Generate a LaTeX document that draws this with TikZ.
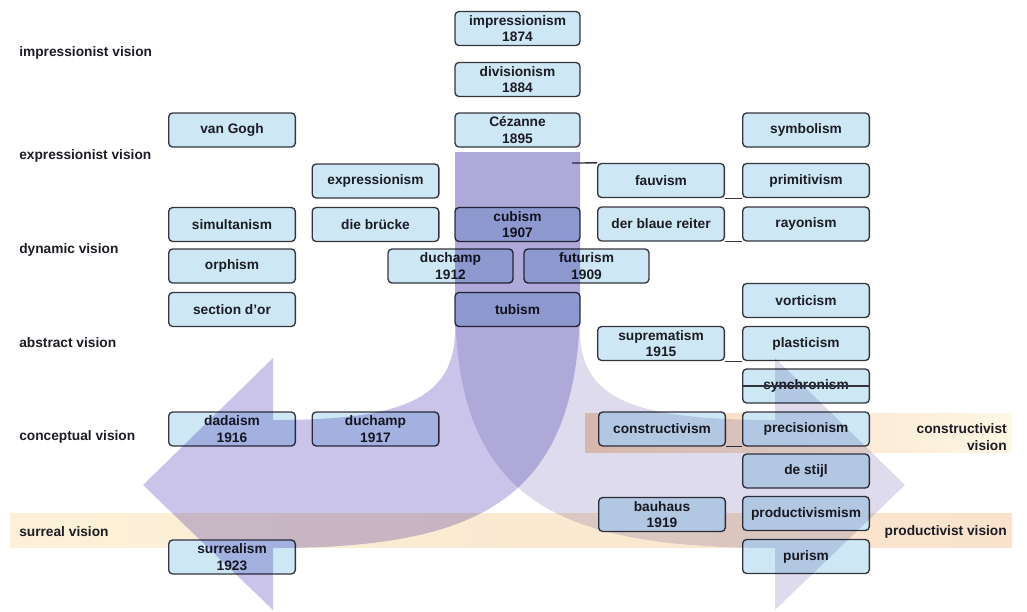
\documentclass[tikz,border=0pt]{standalone}
\usepackage{fontspec}
\setmainfont{Liberation Sans}
\definecolor{boxfill}{HTML}{CDE7F5}
\definecolor{boxline}{HTML}{34343E}
\definecolor{ink}{HTML}{1C1C24}
\definecolor{leftflow}{HTML}{8173CE}
\definecolor{rightflow}{HTML}{9892C4}
\definecolor{bandyellow}{HTML}{FBEBC8}
\definecolor{bandorange}{HTML}{F4C3A0}
\definecolor{bandpale}{HTML}{FDF3D8}
\begin{document}
\begin{tikzpicture}[x=0.75pt,y=-0.75pt,
  box/.style={draw=boxline, line width=1pt, rounded corners=3pt, fill=boxfill,
    minimum width=95pt, minimum height=25.5pt, inner sep=0pt, align=center,
    font=\bfseries\fontsize{10.3}{12.6}\selectfont, text=ink},
  cbox/.style={box, minimum width=93.75pt},
  vision/.style={font=\bfseries\fontsize{10.3}{12.6}\selectfont, text=ink, inner sep=0pt},
  rule/.style={draw=boxline, line width=1pt},
  flowL/.style={fill=leftflow, fill opacity=0.42, blend mode=multiply},
  flowR/.style={fill=rightflow, fill opacity=0.32, blend mode=multiply}]
\path[use as bounding box] (0,0) rectangle (1027,611);

% coloured bands behind the lower vision rows
\shade[left color=bandyellow, middle color=bandorange, right color=bandorange!60!bandpale, opacity=0.7]
  (10,513) rectangle (1012,547);
\shade[left color=bandorange, right color=bandpale, opacity=0.7]
  (585,413) rectangle (1012,452);

% central column
\node[cbox] (impressionism) at (517.5,28.5) {impressionism\\1874};
\node[cbox] (divisionism) at (517.5,79.5) {divisionism\\1884};
\node[cbox] (cezanne) at (517.5,130) {Cézanne\\1895};
\node[cbox] (cubism) at (517.5,224.5) {cubism\\1907};
\node[cbox] (duchampA) at (450.5,266) {duchamp\\1912};
\node[cbox] (futurism) at (586.5,266) {futurism\\1909};
\node[cbox] (tubism) at (517.5,309.5) {tubism};

% left columns
\node[box] (vangogh) at (232,130) {van Gogh};
\node[box] (simultanism) at (232,224.5) {simultanism};
\node[box] (orphism) at (232,266) {orphism};
\node[box] (sectiondor) at (232,309.5) {section d'or};
\node[box] (dadaism) at (232,429) {dadaism\\1916};
\node[box] (surrealism) at (232,557) {surrealism\\1923};
\node[box] (expressionism) at (375.5,181) {expressionism};
\node[box] (diebrucke) at (375.5,224.5) {die brücke};
\node[box] (duchampB) at (375.5,429) {duchamp\\1917};

% right columns
\node[box] (fauvism) at (661,180.5) {fauvism};
\node[box] (blauereiter) at (661,224) {der blaue reiter};
\node[box] (suprematism) at (661,343.5) {suprematism\\1915};
\node[box] (constructivism) at (662,429) {constructivism};
\node[box] (bauhaus) at (662,514.5) {bauhaus\\1919};
\node[box] (symbolism) at (806,130) {symbolism};
\node[box] (primitivism) at (806,180.5) {primitivism};
\node[box] (rayonism) at (806,224) {rayonism};
\node[box] (vorticism) at (806,300.5) {vorticism};
\node[box] (plasticism) at (806,343.5) {plasticism};
\node[box] (synchronism) at (806,386) {synchronism};
\node[box] (precisionism) at (806,429) {precisionism};
\node[box] (destijl) at (806,471) {de stijl};
\node[box] (productivismism) at (806,513.5) {productivismism};
\node[box] (purism) at (806,556.5) {purism};

% rules running between neighbouring boxes
\coordinate (stemtick) at (572,163);
\draw[rule] (stemtick) -- (fauvism.north west);
\draw[rule] (fauvism.south east) -- (primitivism.south west);
\draw[rule] (blauereiter.south east) -- (rayonism.south west);
\draw[rule] (suprematism.south east) -- (plasticism.south west);
\draw[rule] (constructivism.south east) -- (precisionism.south west);
\draw[rule] (synchronism.west) -- (synchronism.east);

% split flow: one arrow bends right, one bends left
\path[flowR] (580,152) -- (580,330) .. controls (580,400) and (635,420) .. (775,420)
  -- (775,358) -- (905,485) -- (775,610) -- (775,548)
  .. controls (555,548) and (455,500) .. (455,300) -- (455,152) -- cycle;
\path[flowL] (455,152) -- (455,330) .. controls (455,400) and (400,420) .. (273,420)
  -- (273,358) -- (143,485) -- (273,610) -- (273,548)
  .. controls (480,548) and (580,500) .. (580,300) -- (580,152) -- cycle;

% vision labels
\node[vision, anchor=west] (vImp) at (19,53) {impressionist vision};
\node[vision, anchor=west] (vExp) at (19,156) {expressionist vision};
\node[vision, anchor=west] (vDyn) at (19,250) {dynamic vision};
\node[vision, anchor=west] (vAbs) at (19,343) {abstract vision};
\node[vision, anchor=west] (vCon) at (19,437) {conceptual vision};
\node[vision, anchor=west] (vSur) at (19,532) {surreal vision};
\node[vision, anchor=east, align=right] (vCst) at (1007,437) {constructivist\\vision};
\node[vision, anchor=east] (vPro) at (1007,532) {productivist vision};
\end{tikzpicture}
\end{document}
